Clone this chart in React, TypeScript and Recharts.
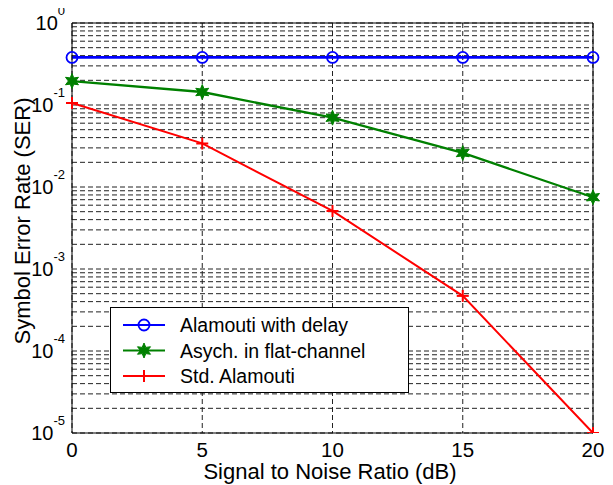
import React from "react";
import {
  LineChart,
  Line,
  XAxis,
  YAxis,
  CartesianGrid,
  ReferenceLine,
} from "recharts";

// SNR (dB)
const snr = [0, 5, 10, 15, 20];
// symbol error rate per scheme
const alamoutiDelay = [0.38, 0.38, 0.38, 0.38, 0.38];
const asychFlat = [0.196, 0.144, 0.07, 0.026, 0.0075];
const stdAlamouti = [0.106, 0.034, 0.0051, 0.00047, 0.00001];

const xTicks = [0, 5, 10, 15, 20];
const decades = [1e-5, 1e-4, 1e-3, 1e-2, 1e-1];
const mantissas = [1, 2, 3, 4, 5, 6, 7, 8, 9];
const decadeLabels = ["-5", "-4", "-3", "-2", "-1", "0"];

const yTicks = [
  ...decades.flatMap((d) => mantissas.map((m) => +(m * d).toPrecision(3))),
  1,
];

const chartData = snr.map((x, i) => ({
  snr: x,
  delay: alamoutiDelay[i],
  flat: asychFlat[i],
  std: stdAlamouti[i],
}));

const FONT = "'Liberation Sans', Arial, sans-serif";
const BLUE = "#0000ff";
const GREEN = "#008000";
const RED = "#ff0000";

const circle = (cx: number, cy: number, key?: string) => (
  <circle key={key} cx={cx} cy={cy} r={5.5} fill="none" stroke={BLUE} strokeWidth={1.8} />
);

const hexagram = (cx: number, cy: number, key?: string) => {
  const pts: string[] = [];
  for (let k = 0; k < 12; k++) {
    const r = k % 2 === 0 ? 7.5 : 3.6;
    const a = (Math.PI / 6) * k - Math.PI / 2;
    pts.push(`${cx + r * Math.cos(a)},${cy + r * Math.sin(a)}`);
  }
  return <polygon key={key} points={pts.join(" ")} fill={GREEN} stroke={GREEN} strokeWidth={1} />;
};

const plus = (cx: number, cy: number, key?: string) => (
  <g key={key}>
    <line x1={cx - 6} x2={cx + 6} y1={cy} y2={cy} stroke={RED} strokeWidth={2} />
    <line x1={cx} x2={cx} y1={cy - 6} y2={cy + 6} stroke={RED} strokeWidth={2} />
  </g>
);

const YTick = (props: any) => {
  const { y, payload } = props;
  const idx = [...decades, 1].findIndex((d) => Math.abs(d - payload.value) < d * 1e-6);
  if (idx < 0) return <g />;
  return (
    <text x={65} y={y} textAnchor="end" fontFamily={FONT} fill="#000">
      <tspan dy={7} fontSize={20}>10</tspan>
      <tspan dy={-15} fontSize={13}>{decadeLabels[idx]}</tspan>
    </text>
  );
};

const XTick = (props: any) => {
  const { x, payload } = props;
  return (
    <text x={x} y={457} textAnchor="middle" fontFamily={FONT} fontSize={20.5} fill="#000">
      {payload.value}
    </text>
  );
};

const legendRows = [
  { name: "Alamouti with delay", color: BLUE, mark: circle, w: 2 },
  { name: "Asych. in flat-channel", color: GREEN, mark: hexagram, w: 2.2 },
  { name: "Std. Alamouti", color: RED, mark: plus, w: 2 },
];

const LegendBox = () => (
  <svg
    width={300}
    height={87}
    style={{ position: "absolute", left: 110, top: 307, display: "block" }}
  >
    <rect x={0.5} y={0.5} width={298} height={85} fill="#fff" stroke="#000" />
    {legendRows.map((r, i) => {
      const cy = 18 + i * 25.5;
      return (
        <g key={r.name}>
          <line x1={13} x2={55} y1={cy} y2={cy} stroke={r.color} strokeWidth={r.w} />
          {r.mark(34, cy)}
          <text x={70} y={cy + 7} fontFamily={FONT} fontSize={19.5} fill="#000">
            {r.name}
          </text>
        </g>
      );
    })}
  </svg>
);

export default function App() {
  return (
    <div style={{ position: "relative", margin: "-8px 0 0 -8px", width: 613, height: 485 }}>
      <LineChart
        width={613}
        height={485}
        data={chartData}
        margin={{ top: 23, right: 20, left: 0, bottom: 0 }}
      >
        <CartesianGrid stroke="#222" strokeDasharray="5 3" />
        <XAxis
          dataKey="snr"
          type="number"
          domain={[0, 20]}
          ticks={xTicks}
          height={52}
          tickSize={0}
          tick={<XTick />}
          axisLine={{ stroke: "#000" }}
          tickLine={false}
          label={{
            content: () => (
              <text
                x={330}
                y={479}
                textAnchor="middle"
                fontFamily={FONT}
                fontSize={22}
                fill="#000"
              >
                Signal to Noise Ratio (dB)
              </text>
            ),
          }}
        />
        <YAxis
          type="number"
          scale="log"
          domain={[1e-5, 1]}
          allowDataOverflow
          ticks={yTicks}
          width={72}
          tickSize={0}
          tick={<YTick />}
          interval={0}
          axisLine={{ stroke: "#000" }}
          tickLine={false}
          label={{
            content: () => (
              <text
                x={30}
                y={221}
                transform="rotate(-90, 30, 221)"
                textAnchor="middle"
                fontFamily={FONT}
                fontSize={22}
                fill="#000"
              >
                Symbol Error Rate (SER)
              </text>
            ),
          }}
        />
        <ReferenceLine y={1} stroke="#000" />
        <ReferenceLine x={20} stroke="#000" />
        <Line
          dataKey="delay"
          stroke={BLUE}
          strokeWidth={2.8}
          isAnimationActive={false}
          dot={(p: any) => circle(p.cx, p.cy, `d${p.index}`)}
          name="Alamouti with delay"
        />
        <Line
          dataKey="flat"
          stroke={GREEN}
          strokeWidth={2.3}
          isAnimationActive={false}
          dot={(p: any) => hexagram(p.cx, p.cy, `f${p.index}`)}
          name="Asych. in flat-channel"
        />
        <Line
          dataKey="std"
          stroke={RED}
          strokeWidth={2}
          isAnimationActive={false}
          dot={(p: any) => plus(p.cx, p.cy, `s${p.index}`)}
          name="Std. Alamouti"
        />
      </LineChart>
      <LegendBox />
    </div>
  );
}
